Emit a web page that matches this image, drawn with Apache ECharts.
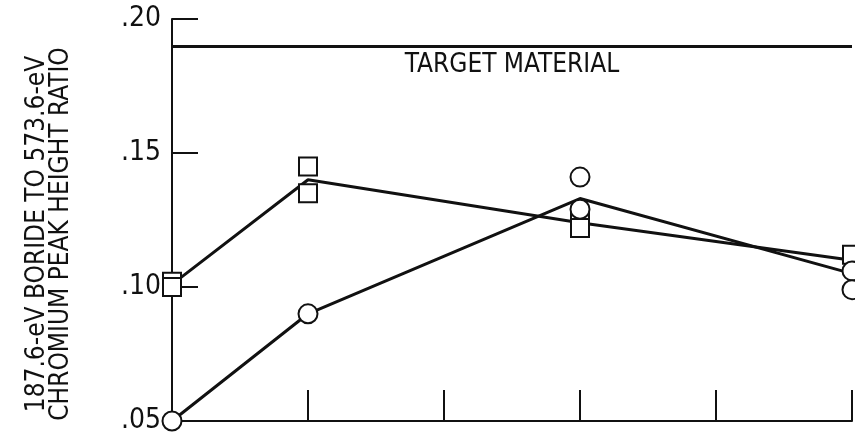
<!DOCTYPE html>
<html>
<head>
<meta charset="utf-8">
<script src="https://cdn.jsdelivr.net/npm/echarts@6/dist/echarts.min.js"></script>
<style>
  html, body { margin: 0; padding: 0; background: #fff; }
  #chart { width: 855px; height: 435px; }
</style>
</head>
<body>
<div id="chart"></div>
<script>
// Sample positions along the horizontal axis (unlabelled, evenly spaced)
const xTicks = [0, 1, 2, 3, 4, 5];
const yTicks = [0.05, 0.10, 0.15, 0.20];

// Peak height ratio: square-marker series (mean line + individual readings)
const squareMean = [[0, 0.101], [1, 0.140], [3, 0.124], [5, 0.110]];
const squareReadings = [[0, 0.102], [0, 0.100], [1, 0.145], [1, 0.135], [3, 0.125], [3, 0.122], [5, 0.112]];

// Peak height ratio: circle-marker series (mean line + individual readings)
const circleMean = [[0, 0.050], [1, 0.090], [3, 0.133], [5, 0.105]];
const circleReadings = [[0, 0.050], [1, 0.090], [3, 0.141], [3, 0.129], [5, 0.106], [5, 0.099]];

// Ratio of the target material
const targetValue = 0.19;
const targetLabel = 'TARGET MATERIAL';

const yTitle = ['187.6-eV BORIDE TO 573.6-eV', 'CHROMIUM PEAK HEIGHT RATIO'];

const FONT = '"Liberation Sans Narrow", "DejaVu Sans Condensed", "Roboto Condensed", sans-serif';
const INK = '#111';

// One rotated text element per title line, read bottom to top
const titleGraphics = yTitle.map((line, i) => ({
  type: 'text',
  x: 37 + i * 24,
  y: 234,
  rotation: Math.PI / 2,
  style: {
    text: line,
    fill: INK,
    font: '26px ' + FONT,
    align: 'center',
    verticalAlign: 'middle'
  }
}));

const chart = echarts.init(document.getElementById('chart'), null, { renderer: 'canvas' });

chart.setOption({
  animation: false,
  backgroundColor: '#fff',
  grid: { left: 172, right: 3, top: 19, bottom: 11, containLabel: false },
  xAxis: {
    type: 'value',
    min: xTicks[0],
    max: xTicks[xTicks.length - 1],
    interval: 1,
    axisLine: { show: true, lineStyle: { color: INK, width: 2 } },
    axisTick: { show: true, inside: true, length: 31, lineStyle: { color: INK, width: 2 } },
    axisLabel: { show: false },
    splitLine: { show: false }
  },
  yAxis: {
    type: 'value',
    min: yTicks[0],
    max: yTicks[yTicks.length - 1],
    interval: 0.05,
    axisLine: { show: true, lineStyle: { color: INK, width: 2 } },
    axisTick: { show: true, inside: true, length: 26, lineStyle: { color: INK, width: 2 } },
    axisLabel: {
      margin: 11,
      color: INK,
      fontFamily: FONT,
      fontSize: 28,
      formatter: v => '.' + Math.round(v * 100).toString().padStart(2, '0')
    },
    splitLine: { show: false }
  },
  graphic: titleGraphics,
  series: [
    {
      name: 'target',
      type: 'line',
      data: [],
      markLine: {
        silent: true,
        symbol: 'none',
        lineStyle: { color: INK, width: 3, type: 'solid' },
        label: {
          show: true,
          position: 'insideMiddleBottom',
          formatter: targetLabel,
          color: INK,
          fontFamily: FONT,
          fontSize: 26,
          distance: 6
        },
        data: [{ yAxis: targetValue }]
      }
    },
    {
      name: 'squares mean',
      type: 'line',
      data: squareMean,
      showSymbol: false,
      lineStyle: { color: INK, width: 3 },
      z: 2
    },
    {
      name: 'circles mean',
      type: 'line',
      data: circleMean,
      showSymbol: false,
      lineStyle: { color: INK, width: 3 },
      z: 2
    },
    {
      name: 'squares',
      type: 'scatter',
      data: squareReadings,
      symbol: 'rect',
      symbolSize: 18,
      itemStyle: { color: '#fff', borderColor: INK, borderWidth: 2, opacity: 1 },
      z: 3
    },
    {
      name: 'circles',
      type: 'scatter',
      data: circleReadings,
      symbol: 'circle',
      symbolSize: 19,
      itemStyle: { color: '#fff', borderColor: INK, borderWidth: 2, opacity: 1 },
      z: 3
    }
  ]
});
</script>
</body>
</html>
